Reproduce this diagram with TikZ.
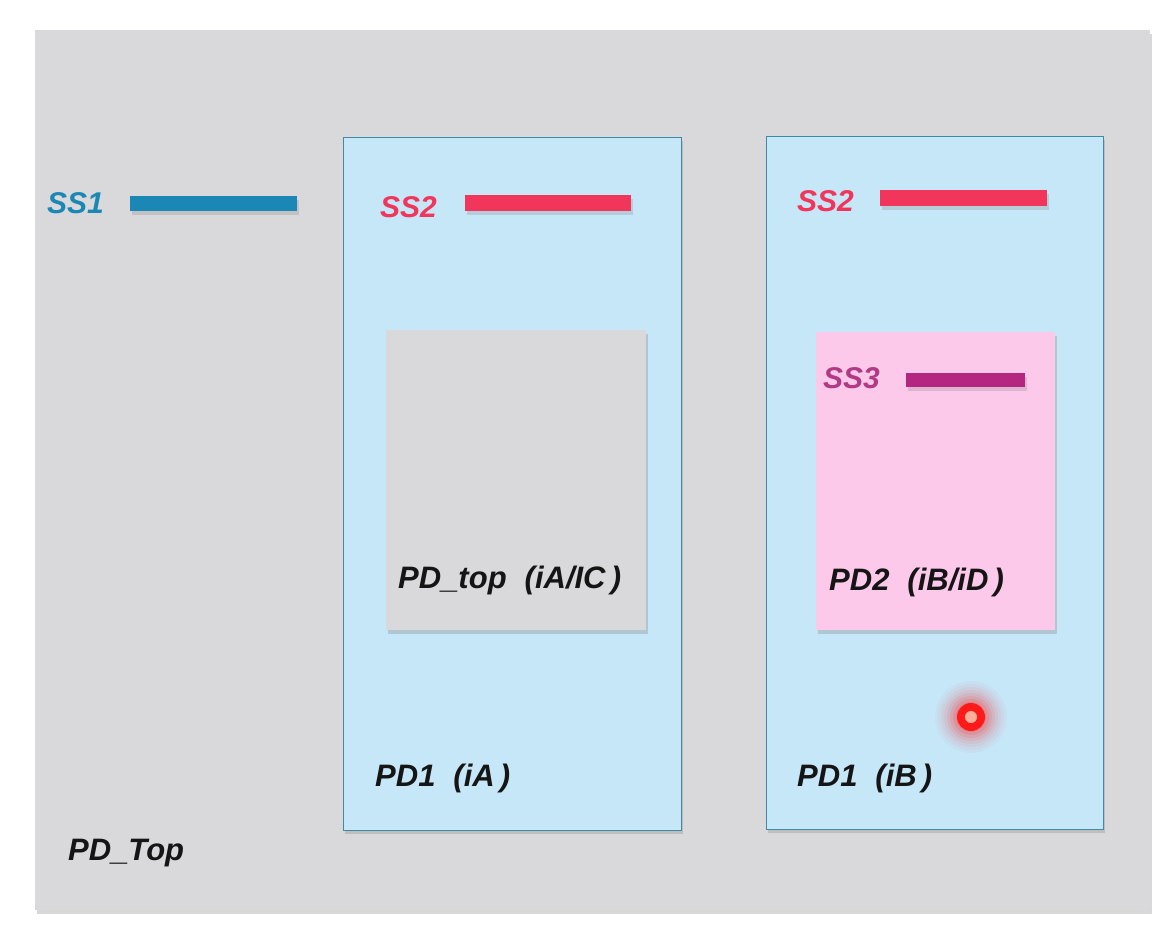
\documentclass[tikz,border=0pt]{standalone}
\usepackage{fontspec}
\setmainfont{Liberation Sans}
\usetikzlibrary{shadows}
\definecolor{outergray}{HTML}{D9D9DB}
\definecolor{pdblue}{HTML}{C6E7F8}
\definecolor{pdborder}{HTML}{3F8AA6}
\definecolor{pink}{HTML}{FCC9EB}
\definecolor{ssone}{HTML}{1B87B5}
\definecolor{sstwo}{HTML}{F2355B}
\definecolor{ssthree}{HTML}{B4267F}
\definecolor{ssthreetxt}{HTML}{B03A84}
\definecolor{dotred}{HTML}{FF1A1A}
\definecolor{txt}{HTML}{151515}
\tikzset{
  lbl/.style={font=\fontsize{31}{36}\selectfont\bfseries\itshape, inner sep=0pt, text=txt},
  sslbl/.style={font=\fontsize{30}{34}\selectfont\bfseries\itshape, inner sep=0pt},
  bar/.style={draw=none, drop shadow={shadow xshift=2pt, shadow yshift=-4pt, opacity=0.25}},
  box/.style={draw=none, drop shadow={shadow xshift=2pt, shadow yshift=-4pt, opacity=0.3}},
}
\begin{document}
\begin{tikzpicture}[x=1pt,y=-1pt]
\useasboundingbox (0,0) rectangle (1171,943);
\fill[white] (0,0) rectangle (1171,943);
% outer
\path[box, fill=outergray] (35,30) rectangle (1150,910);
\node[lbl, anchor=west] (pdtop) at (68,853) {PD\_Top};
% SS1
\node[sslbl, anchor=west, text=ssone] (ss1) at (47,203) {SS1};
\path[bar, fill=ssone] (130,196) rectangle (297,211);
% left PD1
\path[box, fill=pdblue, draw=pdborder, line width=1pt] (343,137) rectangle (681,830);
\node[sslbl, anchor=west, text=sstwo] (ss2a) at (380,207) {SS2};
\path[bar, fill=sstwo] (465,195) rectangle (631,211);
\path[box, fill=outergray] (386,330) rectangle (646,630);
\node[lbl, anchor=west] (pdtopin) at (398,580) {PD\_top\hspace{18pt}(iA/IC\,)};
\node[lbl, anchor=west] (pd1a) at (375,778) {PD1\hspace{18pt}(iA\,)};
% right PD1
\path[box, fill=pdblue, draw=pdborder, line width=1pt] (766,136) rectangle (1103,829);
\node[sslbl, anchor=west, text=sstwo] (ss2b) at (797,201) {SS2};
\path[bar, fill=sstwo] (880,190) rectangle (1047,206);
\path[box, fill=pink] (816,332) rectangle (1055,630);
\node[sslbl, anchor=west, text=ssthreetxt] (ss3) at (823,378) {SS3};
\path[bar, fill=ssthree] (906,373) rectangle (1025,387);
\node[lbl, anchor=west] (pd2) at (829,582) {PD2\hspace{18pt}(iB/iD\,)};
\node[lbl, anchor=west] (pd1b) at (797,778) {PD1\hspace{18pt}(iB\,)};
% red dot with glow
\foreach \r/\o in {36/0.03,33/0.04,30/0.05,27/0.06,24/0.08,21/0.10,18/0.12,15/0.15} {
  \fill[dotred, opacity=\o] (971,717) circle (\r);
}
\fill[dotred] (971,717) circle (14);
\fill[orange!35!pink] (971,717) circle (6);
\end{tikzpicture}
\end{document}
